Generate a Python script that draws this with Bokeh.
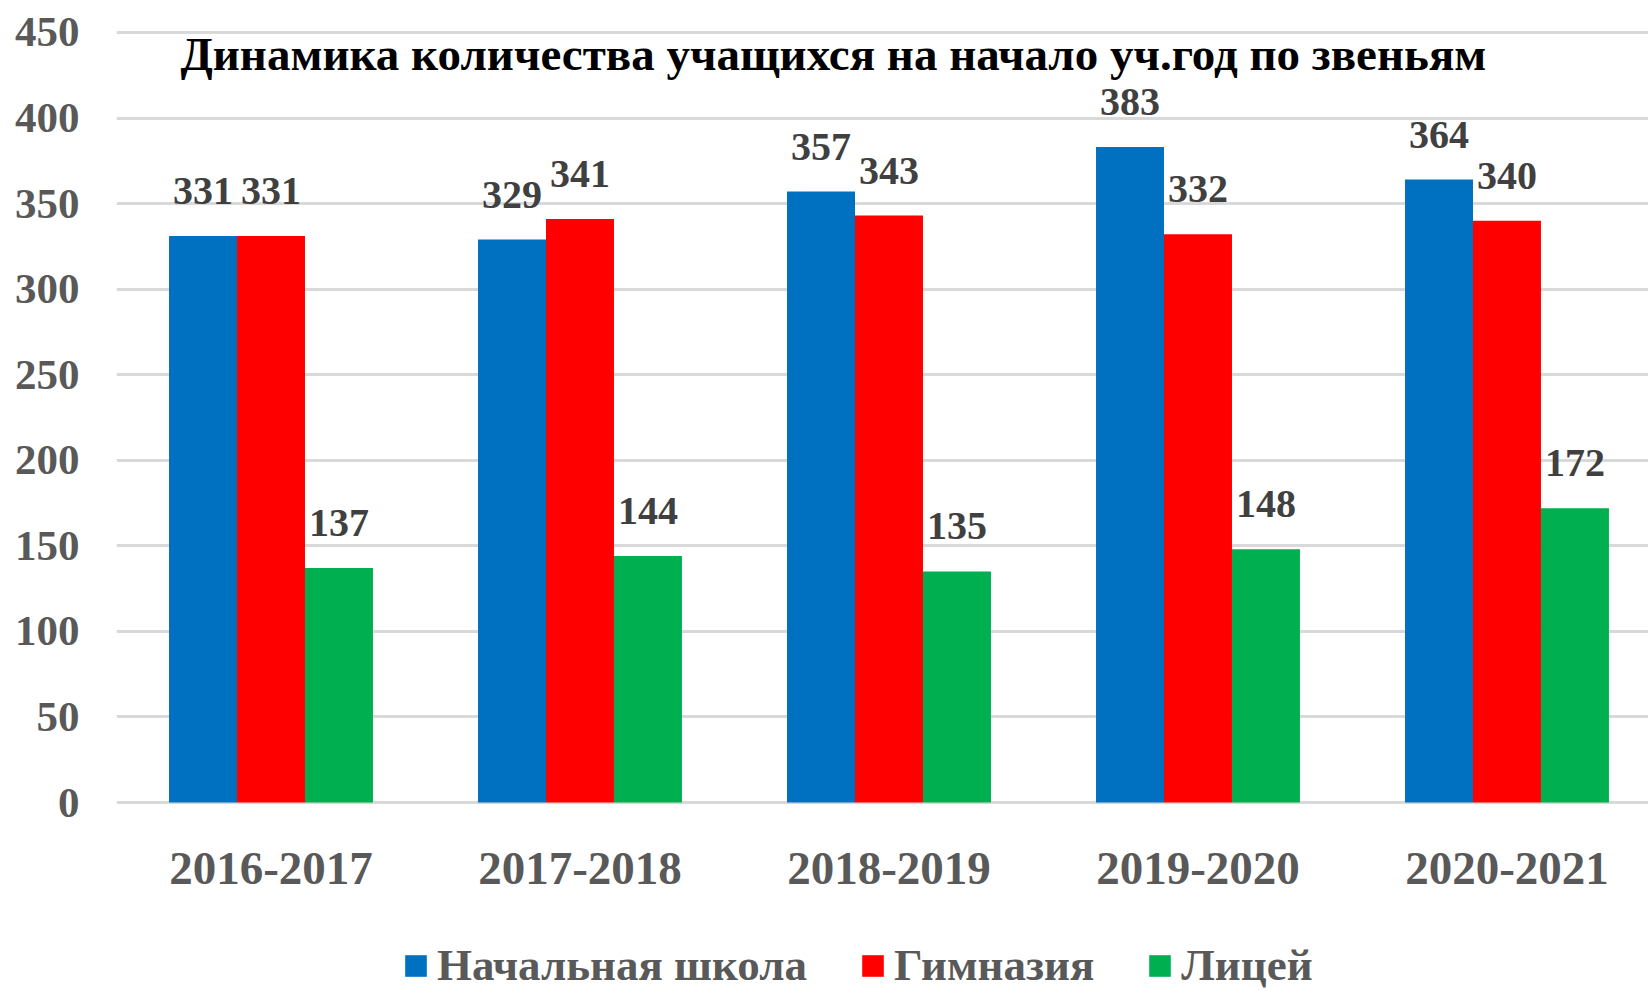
from bokeh.plotting import figure
from bokeh.models import ColumnDataSource, Range1d, FixedTicker, LabelSet, Label, Legend, LegendItem
from bokeh.transform import dodge
from bokeh.core.properties import value
from bokeh.embed import file_html
from bokeh.resources import INLINE

# ---- data ----
categories = ["2016-2017", "2017-2018", "2018-2019", "2019-2020", "2020-2021"]
series_names = ["Начальная школа", "Гимназия", "Лицей"]
nachalnaya = [331, 329, 357, 383, 364]
gimnaziya = [331, 341, 343, 332, 340]
litsey = [137, 144, 135, 148, 172]
y_ticks = [0, 50, 100, 150, 200, 250, 300, 350, 400, 450]
title_text = "Динамика количества учащихся на начало уч.год по звеньям"

# ---- styles ----
colors = ["#0070C0", "#FF0000", "#00B050"]
FONT = "Liberation Serif"
GREY = "#595959"
BAR_W = 0.22
offsets = [-0.22, 0.0, 0.22]

idx = list(range(len(categories)))

p = figure(width=1648, height=993, output_backend="svg", toolbar_location=None,
           x_range=Range1d(-0.5, 4.458), y_range=Range1d(-111.6, 452.3),
           x_axis_location=None,
           min_border_left=116, min_border_right=0, min_border_top=28,
           min_border_bottom=0)
p.background_fill_color = "white"
p.border_fill_color = "white"
p.outline_line_color = None

items = []
for name, vals, color, off in zip(series_names, [nachalnaya, gimnaziya, litsey], colors, offsets):
    src = ColumnDataSource(dict(x=idx, top=vals, lbl=[str(v) for v in vals]))
    r = p.vbar(x=dodge("x", off, range=p.x_range), top="top", bottom=0, width=BAR_W,
               source=src, fill_color=color, line_color=None)
    items.append(LegendItem(label=name, renderers=[r]))
    p.add_layout(LabelSet(x=dodge("x", off, range=p.x_range), y="top", text="lbl", source=src,
                          y_offset=32, text_align="center", text_baseline="alphabetic",
                          text_font=value(FONT), text_font_size=value("40px"),
                          text_font_style="bold", text_color="#404040"))

# category labels under the bars (x axis labels)
cat_src = ColumnDataSource(dict(x=idx, y=[0] * len(idx), cat=categories))
p.add_layout(LabelSet(x="x", y="y", text="cat", source=cat_src, y_offset=-81,
                      text_align="center", text_baseline="alphabetic",
                      text_font=value(FONT), text_font_size=value("47px"),
                      text_font_style="bold", text_color=GREY))

# y axis
p.yaxis.ticker = FixedTicker(ticks=y_ticks)
p.yaxis.major_label_text_font = FONT
p.yaxis.major_label_text_font_size = "43px"
p.yaxis.major_label_text_font_style = "bold"
p.yaxis.major_label_text_color = GREY
p.yaxis.major_label_standoff = 31
p.yaxis.axis_line_color = None
p.yaxis.major_tick_line_color = None
p.yaxis.minor_tick_line_color = None

p.xgrid.visible = False
p.ygrid.grid_line_color = "#D9D9D9"
p.ygrid.grid_line_width = 3

# title inside plot area
p.add_layout(Label(x=1.82, y=437.6, text=title_text, text_align="center",
                   text_baseline="alphabetic", text_font=FONT, text_font_size="47px",
                   text_font_style="bold", text_color="#000000"))

legend = Legend(items=items, location=(286, 2), orientation="horizontal",
                glyph_width=27, glyph_height=27, label_text_font=FONT,
                label_text_font_size="45px", label_text_font_style="bold",
                label_text_color=GREY, label_standoff=8, spacing=52, padding=0,
                margin=0, border_line_color=None, background_fill_alpha=0)
p.add_layout(legend, "center")

open("out.html", "w").write(file_html(p, INLINE))
